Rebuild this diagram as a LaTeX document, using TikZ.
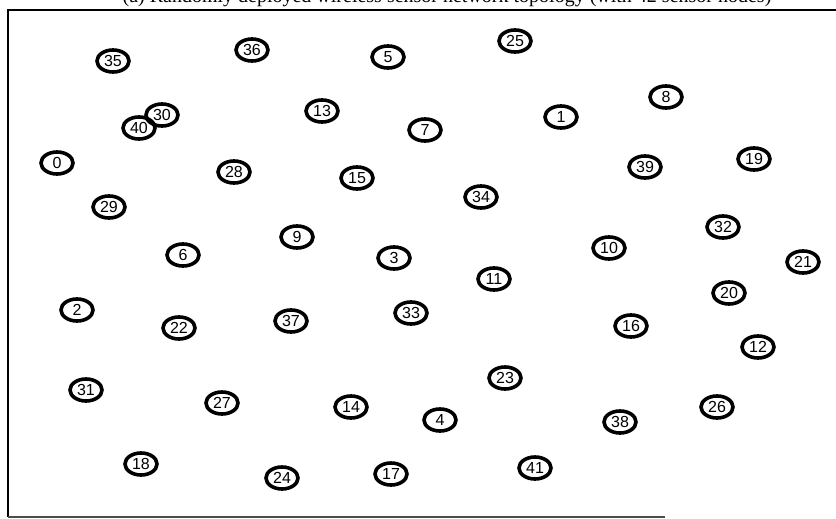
\documentclass[tikz,border=0pt]{standalone}
\usepackage{fontspec}
\setmainfont{Liberation Serif}
\newfontfamily\labelfont{Liberation Sans}
\usetikzlibrary{shapes.geometric}

\begin{document}
\begin{tikzpicture}[x=1pt, y=-1pt,
  nd/.style={draw, ellipse, line width=3.6pt, minimum width=32pt, minimum height=22pt,
    inner sep=0pt, font=\labelfont\fontsize{16}{16}\selectfont}]
\useasboundingbox (0,0) rectangle (836,519);
% cut-off caption above the frame
\begin{scope}
\clip (0,0) rectangle (836,519);
\node[anchor=base, font=\fontsize{20}{20}\selectfont, inner sep=0pt] (cap) at (447,3)
  {(a) Randomly deployed wireless sensor network topology (with 42 sensor nodes)};
\end{scope}
% frame
\draw[line width=2.4pt] (836,10) -- (8,10) -- (8,517);
\draw[line width=1.6pt, black!70] (8,517) -- (665,517);
% sensor nodes
\node[nd] (n35) at (113,61) {35};
\node[nd] (n36) at (252,50) {36};
\node[nd] (n5) at (388,57) {5};
\node[nd] (n25) at (515,41) {25};
\node[nd] (n8) at (666,97) {8};
\node[nd] (n30) at (162,115) {30};
\node[nd] (n40) at (139,128) {40};
\node[nd] (n13) at (322,111) {13};
\node[nd] (n7) at (425,130) {7};
\node[nd] (n1) at (561,117) {1};
\node[nd] (n0) at (57,163) {0};
\node[nd] (n28) at (234,172) {28};
\node[nd] (n15) at (357,178) {15};
\node[nd] (n39) at (645,167) {39};
\node[nd] (n19) at (754,159) {19};
\node[nd] (n29) at (109,207) {29};
\node[nd] (n34) at (481,197) {34};
\node[nd] (n9) at (297,237) {9};
\node[nd] (n6) at (183,255) {6};
\node[nd] (n3) at (394,258) {3};
\node[nd] (n32) at (723,227) {32};
\node[nd] (n10) at (609,248) {10};
\node[nd] (n21) at (803,262) {21};
\node[nd] (n11) at (494,279) {11};
\node[nd] (n20) at (729,293) {20};
\node[nd] (n2) at (77,310) {2};
\node[nd] (n22) at (179,328) {22};
\node[nd] (n37) at (291,321) {37};
\node[nd] (n33) at (411,313) {33};
\node[nd] (n16) at (631,326) {16};
\node[nd] (n12) at (758,347) {12};
\node[nd] (n23) at (505,378) {23};
\node[nd] (n31) at (86,390) {31};
\node[nd] (n27) at (222,403) {27};
\node[nd] (n14) at (351,407) {14};
\node[nd] (n4) at (440,420) {4};
\node[nd] (n38) at (620,422) {38};
\node[nd] (n26) at (717,407) {26};
\node[nd] (n18) at (141,464) {18};
\node[nd] (n24) at (282,478) {24};
\node[nd] (n17) at (391,474) {17};
\node[nd] (n41) at (535,468) {41};
\end{tikzpicture}
\end{document}
